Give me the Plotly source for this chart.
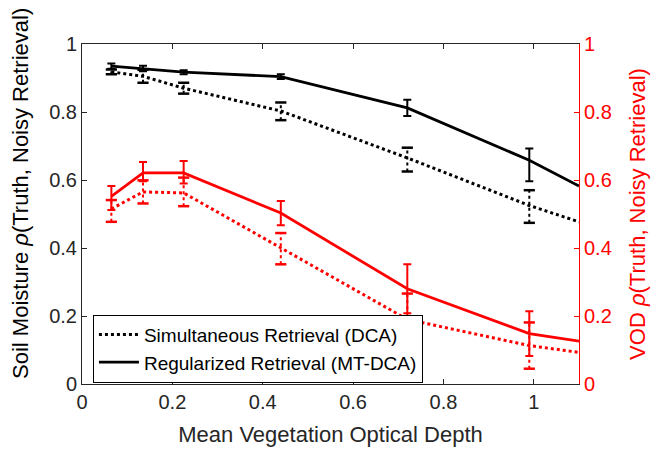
import plotly.graph_objects as go

# Mean vegetation optical depth (x)
vod_x = [0.065, 0.135, 0.225, 0.44, 0.72, 0.99]
x_edge = 1.1

# Soil moisture correlation (left axis)
sm_mtdca = [0.935, 0.928, 0.917, 0.904, 0.812, 0.658]
sm_mtdca_edge = 0.582
sm_mtdca_errp = [0.008, 0.008, 0.006, 0.007, 0.024, 0.035]
sm_mtdca_errm = [0.008, 0.008, 0.006, 0.007, 0.024, 0.062]

sm_dca = [0.918, 0.905, 0.870, 0.803, 0.665, 0.525]
sm_dca_edge = 0.477
sm_dca_errp = [0.007, 0.019, 0.016, 0.025, 0.030, 0.045]
sm_dca_errm = [0.007, 0.019, 0.016, 0.027, 0.040, 0.051]

# VOD correlation (right axis)
vod_mtdca = [0.552, 0.621, 0.621, 0.503, 0.280, 0.148]
vod_mtdca_edge = 0.126
vod_mtdca_errp = [0.030, 0.032, 0.035, 0.035, 0.072, 0.066]
vod_mtdca_errm = [0.040, 0.025, 0.031, 0.036, 0.072, 0.066]

vod_dca = [0.515, 0.565, 0.562, 0.401, 0.190, 0.113]
vod_dca_edge = 0.093
vod_dca_errp = [0.026, 0.034, 0.045, 0.043, 0.076, 0.068]
vod_dca_errm = [0.038, 0.034, 0.039, 0.049, 0.076, 0.068]

x_ticks = [0, 0.2, 0.4, 0.6, 0.8, 1]
y_ticks = [0, 0.2, 0.4, 0.6, 0.8, 1]

RED = "#FF0000"
BLACK = "#000000"
AX = "#262626"
FONT = "Liberation Sans, Arial, Helvetica, sans-serif"

fig = go.Figure()


def dotted_errorbars(x, y, ep, em, color, yaxis):
    xs, ys = [], []
    cx, cy = [], []
    for xi, yi, p, m in zip(x, y, ep, em):
        xs += [xi, xi, None]
        ys += [yi - m, yi + p, None]
        cx += [xi, xi]
        cy += [yi - m, yi + p]
    fig.add_trace(go.Scatter(x=xs, y=ys, mode="lines", yaxis=yaxis,
                             line=dict(color=color, width=2, dash="3px,3px"),
                             showlegend=False, hoverinfo="skip"))
    fig.add_trace(go.Scatter(x=cx, y=cy, mode="markers", yaxis=yaxis,
                             marker=dict(symbol="line-ew", size=8,
                                         line=dict(color=color, width=2.5)),
                             showlegend=False, hoverinfo="skip"))


def solid_errorbars(x, y, ep, em, color, yaxis):
    fig.add_trace(go.Scatter(x=x, y=y, mode="markers", yaxis=yaxis,
                             marker=dict(size=1, color="rgba(0,0,0,0)"),
                             error_y=dict(type="data", symmetric=False, array=ep,
                                          arrayminus=em, color=color,
                                          thickness=2, width=4),
                             showlegend=False, hoverinfo="skip"))


# Red (VOD) series on right axis
fig.add_trace(go.Scatter(x=vod_x + [x_edge], y=vod_dca + [vod_dca_edge], mode="lines",
                         yaxis="y2", line=dict(color=RED, width=3, dash="3px,3px"),
                         showlegend=False))
dotted_errorbars(vod_x, vod_dca, vod_dca_errp, vod_dca_errm, RED, "y2")
fig.add_trace(go.Scatter(x=vod_x + [x_edge], y=vod_mtdca + [vod_mtdca_edge], mode="lines",
                         yaxis="y2", line=dict(color=RED, width=2.8),
                         showlegend=False))
solid_errorbars(vod_x, vod_mtdca, vod_mtdca_errp, vod_mtdca_errm, RED, "y2")

# Black (SM) series on left axis
fig.add_trace(go.Scatter(x=vod_x + [x_edge], y=sm_dca + [sm_dca_edge], mode="lines",
                         yaxis="y", line=dict(color=BLACK, width=3, dash="3px,3px"),
                         name="Simultaneous Retrieval (DCA)"))
dotted_errorbars(vod_x, sm_dca, sm_dca_errp, sm_dca_errm, BLACK, "y")
fig.add_trace(go.Scatter(x=vod_x + [x_edge], y=sm_mtdca + [sm_mtdca_edge], mode="lines",
                         yaxis="y", line=dict(color=BLACK, width=2.8),
                         name="Regularized Retrieval (MT-DCA)"))
solid_errorbars(vod_x, sm_mtdca, sm_mtdca_errp, sm_mtdca_errm, BLACK, "y")

fig.update_layout(
    width=662, height=449,
    margin=dict(l=82, r=83, t=44, b=65, autoexpand=False),
    paper_bgcolor="white", plot_bgcolor="white",
    font=dict(family=FONT, size=20, color=BLACK),
    xaxis=dict(range=[0, 1.1], tickvals=x_ticks, ticks="inside", ticklen=5,
               tickwidth=1, tickcolor=AX, showline=True, linecolor=AX, linewidth=1,
               mirror="ticks", showgrid=False, zeroline=False, automargin=False,
               tickfont=dict(size=20, color=AX),
               title=dict(text="Mean Vegetation Optical Depth",
                          font=dict(size=22, color=AX), standoff=14)),
    yaxis=dict(range=[0, 1], tickvals=y_ticks, ticks="inside", ticklen=5,
               tickwidth=1, tickcolor=AX, showline=True, linecolor=AX, linewidth=1,
               showgrid=False, zeroline=False, automargin=False,
               tickfont=dict(size=20, color=AX)),
    yaxis2=dict(range=[0, 1], tickvals=y_ticks, ticks="inside", ticklen=5,
                tickwidth=1, tickcolor=RED, showline=True, linecolor=RED, linewidth=1,
                overlaying="y", side="right", showgrid=False, zeroline=False,
                automargin=False,
                tickfont=dict(size=20, color=RED),
                title=dict(text="VOD <i>ρ</i>(Truth, Noisy Retrieval)",
                           font=dict(size=22, color=RED), standoff=18)),
    annotations=[dict(text="Soil Moisture <i>ρ</i>(Truth, Noisy Retrieval)",
                      xref="paper", yref="paper", x=-0.124, y=0.56,
                      xanchor="center", yanchor="middle", textangle=-90,
                      showarrow=False, font=dict(size=22, color=BLACK))],
    legend=dict(x=0.022, y=0.204, xanchor="left", yanchor="top",
                bgcolor="white", bordercolor=BLACK, borderwidth=1,
                font=dict(size=19, color=BLACK), itemwidth=40,
                tracegroupgap=0),
    showlegend=True,
)

fig.write_html("out.html")
